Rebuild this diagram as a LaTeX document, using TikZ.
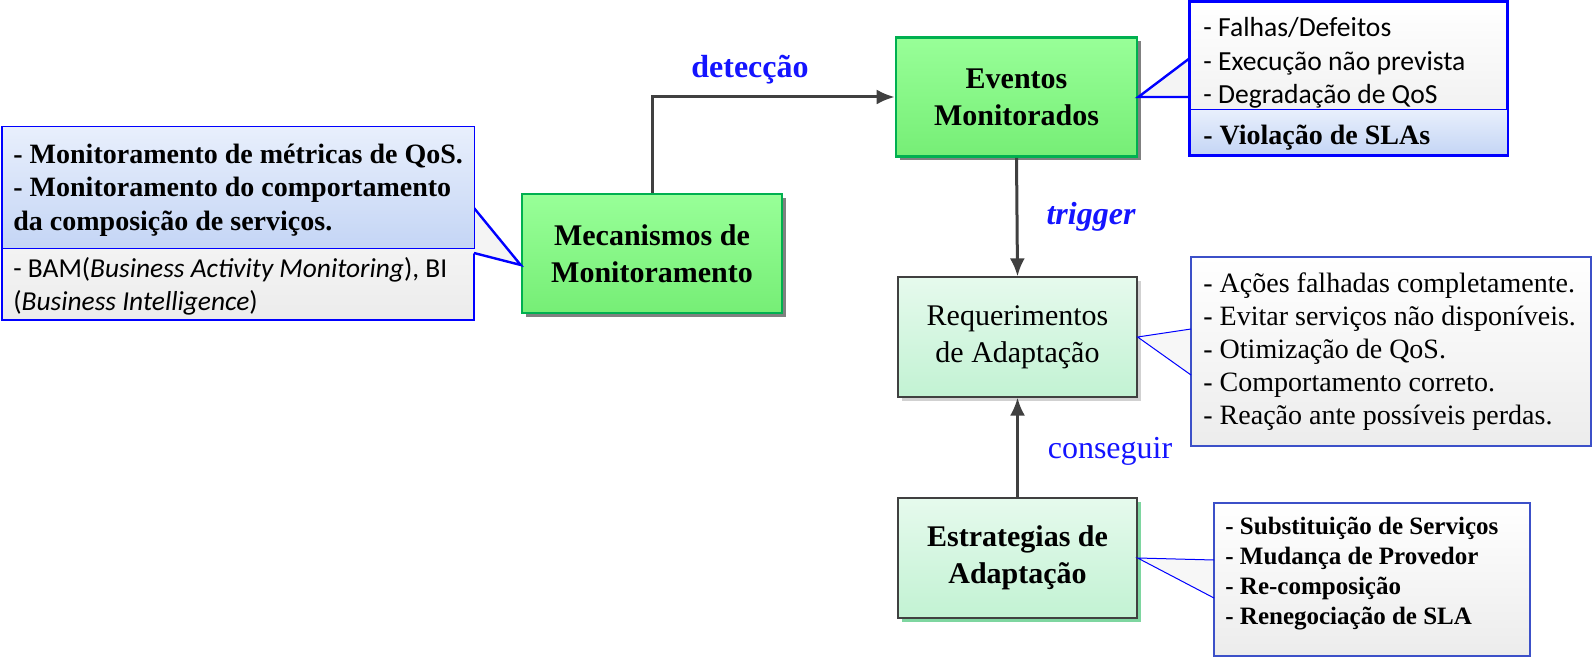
\documentclass[tikz,border=0pt]{standalone}
\usepackage{fontspec}
\setmainfont{Liberation Serif}
\newfontfamily\calibri{Carlito}
\usetikzlibrary{arrows.meta,shadows}
\definecolor{boxgreen}{RGB}{0,176,80}
\definecolor{lightgreen}{RGB}{152,255,152}
\definecolor{midgreen}{RGB}{118,238,118}
\definecolor{mintlight}{RGB}{230,250,237}
\definecolor{mintdark}{RGB}{194,242,211}
\definecolor{shadegreen}{RGB}{126,214,160}
\definecolor{notebluelight}{RGB}{232,239,252}
\definecolor{notebluedark}{RGB}{196,213,245}
\definecolor{notegray}{RGB}{236,236,236}
\definecolor{noteframe}{RGB}{60,80,200}
\definecolor{arrowgray}{RGB}{64,64,64}
\definecolor{labelblue}{RGB}{20,20,255}

\begin{document}
\begin{tikzpicture}[x=0.5pt, y=-0.5pt,
	greenbox/.style={draw=boxgreen, line width=1.3pt, top color=lightgreen, bottom color=midgreen, minimum height=59.5pt, align=center, font=\fontsize{15}{18.5}\selectfont\bfseries, general shadow={fill=gray, shadow xshift=2pt, shadow yshift=-2pt}},
	mintbox/.style={draw=black!75, line width=0.6pt, top color=mintlight, bottom color=mintdark, minimum width=119.5pt, minimum height=60pt, align=center, font=\fontsize{15}{18.5}\selectfont},
	notebox/.style={draw=blue, line width=1.2pt, top color=white, bottom color=notegray, inner sep=0pt},
	thinnote/.style={draw=noteframe, line width=0.6pt, top color=white, bottom color=notegray, inner sep=0pt},
	bluesec/.style={draw=blue, line width=0.5pt, top color=notebluelight, bottom color=notebluedark, inner sep=0pt},
	notetext/.style={anchor=west, align=left, inner xsep=0pt},
	flow/.style={arrowgray, line width=1.5pt, -{Latex[length=9pt,width=7.5pt]}},
	lbl/.style={labelblue, anchor=base, font=\fontsize{16}{19}\selectfont}]
	\useasboundingbox (0,0) rectangle (1593,657);

	% boxes
	\node [greenbox, minimum width=130pt] (mec) at (652,253.5) {Mecanismos de\\Monitoramento};
	\node [greenbox, minimum width=120.5pt] (evt) at (1016.5,97) {Eventos\\Monitorados};
	\node [mintbox, general shadow={fill=black!18, shadow xshift=2pt, shadow yshift=-2pt}] (req) at (1017.5,337) {Requerimentos\\de Adaptação};
	\node [mintbox, font=\fontsize{15}{18.5}\selectfont\bfseries, general shadow={fill=shadegreen, shadow xshift=2pt, shadow yshift=-2pt}] (est) at (1017.5,558) {Estrategias de\\Adaptação};

	\draw [flow] (mec.north) |- (evt.west);
	\draw [flow] (evt.south) -- (req.north);
	\draw [flow] (est.north) -- (req.south);
	\node [lbl, font=\fontsize{16}{19}\selectfont\bfseries] (detlbl) at (750,78) {detecção};
	\node [lbl, font=\fontsize{16}{19}\selectfont\bfseries\itshape] (trglbl) at (1091,225) {trigger};
	\node [lbl] (conlbl) at (1110,458) {conseguir};

	% left note
	\node [notebox, minimum width=236pt, minimum height=96.5pt] (mecnote) at (238,223.5) {};
	\coordinate (mecp1) at (474,208);
	\coordinate (mecp2) at (474,253);
	\coordinate (mectip) at ([yshift=-5.75pt]mec.west);
	\fill [notegray!60] ([xshift=-1.2pt]mecp1) -- (mectip) -- ([xshift=-1.2pt]mecp2) -- cycle;
	\draw [blue, line width=1.2pt] (mecp1) -- (mectip) -- (mecp2);
	\node [bluesec, minimum width=236pt, minimum height=61pt] (mecsec) at (238,188) {};
	\node [notetext, font=\fontsize{14}{16.7}\selectfont\bfseries] (mectxt) at (13,190) {- Monitoramento de métricas de QoS.\\- Monitoramento do comportamento\\da composição de serviços.};
	\node [notetext, font=\calibri\fontsize{13.7}{16.4}\selectfont] (mecref) at (13,286) {- BAM(\textit{Business Activity Monitoring}), BI\\(\textit{Business Intelligence})};

	% events note
	\node [notebox, minimum width=158.5pt, minimum height=76.5pt] (evtnote) at (1348.5,78.5) {};
	\node [bluesec, minimum width=158.5pt, minimum height=22.5pt] (evtsec) at (1348.5,132.5) {};
	\draw [blue, line width=1.2pt] (evtnote.north west) rectangle (evtnote.south east);
	\coordinate (evtp1) at (1190,58);
	\coordinate (evtp2) at (1190,97);
	\fill [notegray!60] ([xshift=-1.2pt]evtp1) -- (evt.east) -- ([xshift=-1.2pt]evtp2) -- cycle;
	\draw [blue, line width=1.2pt] (evtp1) -- (evt.east) -- (evtp2);
	\node [notetext, font=\calibri\fontsize{13.8}{16.75}\selectfont] (evttxt) at (1203,63) {- Falhas/Defeitos\\- Execução não prevista\\- Degradação de QoS};
	\node [notetext, anchor=base west, font=\fontsize{14}{16.7}\selectfont\bfseries] (evtsla) at (1203,145) {- Violação de SLAs};

	% requirements note
	\node [thinnote, minimum width=200pt, minimum height=94.5pt] (reqnote) at (1391,351.5) {};
	\coordinate (reqp1) at (1191,329);
	\coordinate (reqp2) at (1191,375);
	\fill [notegray!40] ([xshift=-0.6pt]reqp1) -- (req.east) -- ([xshift=-0.6pt]reqp2) -- cycle;
	\draw [blue, line width=0.5pt] (reqp1) -- (req.east) -- (reqp2);
	\node [notetext, font=\fontsize{14}{16.5}\selectfont] (reqtxt) at (1203,352) {- Ações falhadas completamente.\\- Evitar serviços não disponíveis.\\- Otimização de QoS.\\- Comportamento correto.\\- Reação ante possíveis perdas.};

	% strategies note
	\node [thinnote, minimum width=158pt, minimum height=76.5pt] (estnote) at (1372,579.5) {};
	\coordinate (estp1) at (1214,560);
	\coordinate (estp2) at (1214,598);
	\fill [notegray!40] ([xshift=-0.6pt]estp1) -- (est.east) -- ([xshift=-0.6pt]estp2) -- cycle;
	\draw [blue, line width=0.5pt] (estp1) -- (est.east) -- (estp2);
	\node [notetext, font=\fontsize{12.5}{15}\selectfont\bfseries] (esttxt) at (1225,574) {- Substituição de Serviços\\- Mudança de Provedor\\- Re-composição\\- Renegociação de SLA};
\end{tikzpicture}
\end{document}
